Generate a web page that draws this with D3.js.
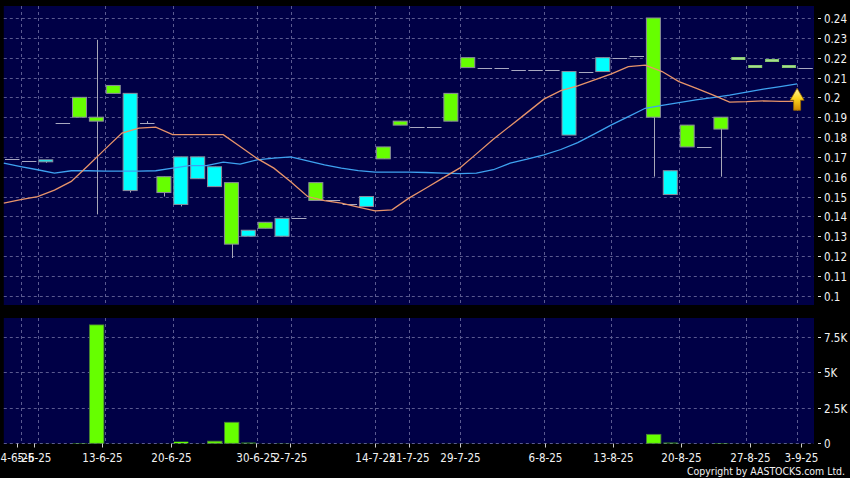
<!DOCTYPE html>
<html><head><meta charset="utf-8">
<script src="https://cdn.jsdelivr.net/npm/d3@7"></script>
<style>
html,body{margin:0;padding:0;background:#000;}
svg{display:block;}
text{font-family:"DejaVu Sans Condensed","DejaVu Sans",sans-serif;font-stretch:condensed;fill:#f2f2f2;font-size:11.5px;}
</style></head><body>
<svg id="c" width="850" height="478"></svg>
<script>
// ---- DATA (one entry per trading slot) ----
const opens  = [0.169,0.168,0.168,0.187,0.190,0.188,0.202,0.202,0.187,0.152,0.170,0.170,0.165,0.126,0.133,0.134,0.139,0.139,0.148,0.148,0.146,0.150,0.169,0.186,0.185,0.185,0.188,0.215,0.215,0.215,0.214,0.214,0.214,0.213,0.213,0.220,0.220,0.221,0.190,0.163,0.175,0.175,0.184,0.220,0.216,0.219,0.216,0.215];
const highs  = [0.169,0.168,0.168,0.187,0.200,0.229,0.206,0.202,0.188,0.160,0.170,0.170,0.165,0.157,0.133,0.137,0.139,0.139,0.157,0.148,0.146,0.150,0.175,0.188,0.185,0.185,0.202,0.220,0.215,0.215,0.214,0.214,0.214,0.213,0.213,0.220,0.220,0.221,0.240,0.163,0.186,0.175,0.190,0.220,0.216,0.219,0.216,0.215];
const lows   = [0.169,0.168,0.167,0.187,0.190,0.141,0.202,0.152,0.187,0.150,0.145,0.159,0.155,0.119,0.130,0.134,0.130,0.139,0.148,0.148,0.146,0.145,0.169,0.186,0.185,0.185,0.188,0.215,0.215,0.215,0.214,0.214,0.214,0.181,0.213,0.213,0.220,0.221,0.160,0.151,0.175,0.175,0.160,0.220,0.216,0.219,0.216,0.215];
const closes = [0.169,0.168,0.167,0.187,0.200,0.190,0.206,0.153,0.187,0.160,0.146,0.159,0.155,0.157,0.130,0.137,0.130,0.139,0.157,0.148,0.146,0.145,0.175,0.188,0.185,0.185,0.202,0.220,0.215,0.215,0.214,0.214,0.214,0.181,0.213,0.213,0.220,0.221,0.240,0.151,0.186,0.175,0.190,0.220,0.216,0.219,0.216,0.215];
const volumes= [0,0,3,0,20,8330,3,3,0,3,110,3,150,1480,40,3,10,0,3,0,0,3,3,3,0,0,3,3,0,0,0,0,0,3,0,3,0,0,630,40,3,0,20,3,3,3,3,0];
const maShort = [0.1467,0.1484,0.150,0.1532,0.1576,0.1656,0.1739,0.182,0.1845,0.185,0.1812,0.1812,0.1812,0.1812,0.1752,0.1692,0.1643,0.1574,0.150,0.1479,0.1467,0.1447,0.1428,0.1433,0.1492,0.1542,0.1593,0.1643,0.1715,0.1789,0.1856,0.1923,0.1991,0.2034,0.2058,0.2088,0.2118,0.2155,0.2162,0.213,0.2079,0.2046,0.2012,0.1976,0.1978,0.1982,0.198,0.198];
const maLong  = [0.1668,0.1651,0.1635,0.1618,0.163,0.163,0.1628,0.1628,0.1628,0.163,0.1643,0.1656,0.1656,0.1673,0.1663,0.1685,0.1694,0.170,0.168,0.166,0.1643,0.1631,0.1623,0.1623,0.1623,0.1621,0.1618,0.1615,0.1618,0.1635,0.1668,0.1688,0.171,0.1737,0.1772,0.1816,0.1861,0.1903,0.1945,0.196,0.1973,0.1987,0.1999,0.2011,0.2026,0.2041,0.2054,0.2068];
const dateTickSlots  = [1,2,6,10,15,17,22,24,27,32,36,40,44,47];
const dateTickLabels = ["4-6-25","5-6-25","13-6-25","20-6-25","30-6-25","2-7-25","14-7-25","21-7-25","29-7-25","6-8-25","13-8-25","20-8-25","27-8-25","3-9-25"];
const priceTicks = [0.24,0.23,0.22,0.21,0.20,0.19,0.18,0.17,0.16,0.15,0.14,0.13,0.12,0.11,0.10];
const volTicks = [0,2500,5000,7500];
const volTickLabels = ["0","2.5K","5K","7.5K"];

// ---- LAYOUT ----
const N = closes.length;
const plotL = 3.8, plotR = 814;
const pTop = 6, pBot = 305, vTop = 318, vBot = 443.5;
const colUp = "#66ff00", colDn = "#00ffff", bg = "#000046", gridCol = "#5a5a90";

const svg = d3.select("#c");
svg.append("rect").attr("width",850).attr("height",478).attr("fill","#000");

const x = d3.scaleBand().domain(d3.range(N)).range([plotL, plotR]).padding(0);
const bw = x.bandwidth();
const xTick = d3.scaleLinear().domain([1,47]).range([17.3,800.7]);
const yP = d3.scaleLinear().domain([0.10,0.24]).range([295.7,18]);
const yV = d3.scaleLinear().domain([0,7500]).range([443.3,336.7]);

const defs = svg.append("defs");
const g1 = defs.append("linearGradient").attr("id","gold").attr("x1",0).attr("y1",0).attr("x2",0).attr("y2",1);
g1.append("stop").attr("offset","0%").attr("stop-color","#fff7a8");
g1.append("stop").attr("offset","45%").attr("stop-color","#ffd820");
g1.append("stop").attr("offset","100%").attr("stop-color","#d08800");

// panels
svg.append("rect").attr("x",plotL).attr("y",pTop).attr("width",plotR-plotL).attr("height",pBot-pTop).attr("fill",bg);
svg.append("rect").attr("x",plotL).attr("y",vTop).attr("width",plotR-plotL).attr("height",vBot-vTop).attr("fill",bg);

const grid = svg.append("g").attr("stroke",gridCol).attr("stroke-width",1).attr("stroke-dasharray","3,3").attr("fill","none");
priceTicks.forEach(v=>{
  const yy = Math.round(yP(v))+0.5;
  grid.append("line").attr("x1",plotL).attr("x2",plotR).attr("y1",yy).attr("y2",yy);
});
volTicks.forEach(v=>{
  const yy = Math.round(yV(v))+0.5;
  grid.append("line").attr("x1",plotL).attr("x2",plotR).attr("y1",yy).attr("y2",yy);
});
dateTickSlots.forEach(k=>{
  const xx = Math.round(x(k))+0.5;
  grid.append("line").attr("x1",xx).attr("x2",xx).attr("y1",pTop).attr("y2",pBot);
  grid.append("line").attr("x1",xx).attr("x2",xx).attr("y1",vTop).attr("y2",vBot);
});

// candles
const cg = svg.append("g");
d3.range(N).forEach(k=>{
  const o=opens[k], h=highs[k], l=lows[k], c=closes[k], v=volumes[k];
  const x0 = x(k)+1.2, cx = Math.round(x(k)+bw/2)+0.5;
  if (h>l) cg.append("line").attr("x1",cx).attr("x2",cx).attr("y1",yP(h)).attr("y2",yP(l)).attr("stroke","#a8a8b8").attr("stroke-width",1);
  if (v===0 && o===c) {
    const yy = Math.round(yP(c))+0.5;
    cg.append("line").attr("x1",x0).attr("x2",x0+14.5).attr("y1",yy).attr("y2",yy).attr("stroke","#a8a8c0").attr("stroke-width",1);
  } else if (o===c) {
    const yy = Math.round(yP(c));
    cg.append("rect").attr("x",x0+0.5).attr("y",yy-1).attr("width",14).attr("height",3)
      .attr("fill","#88c870").attr("stroke","none");
    cg.append("rect").attr("x",x0+1.5).attr("y",yy).attr("width",12).attr("height",1)
      .attr("fill","#a8e090");
  } else {
    const top = yP(Math.max(o,c)), bot = yP(Math.min(o,c));
    let hgt = bot-top, ty = top;
    if (hgt < 2) { ty = top - 1; hgt = 2; }
    cg.append("rect").attr("x",x0).attr("y",ty).attr("width",14).attr("height",hgt)
      .attr("fill", c>=o ? colUp : colDn).attr("stroke","#8c8c9c").attr("stroke-width",1);
  }
});

// moving averages
const line = d3.line().x((d,i)=>x(i)).y(d=>yP(d));
svg.append("path").datum(maLong).attr("d",line).attr("fill","none").attr("stroke","#3ea2f0").attr("stroke-width",1.3);
svg.append("path").datum(maShort).attr("d",line).attr("fill","none").attr("stroke","#e8946a").attr("stroke-width",1.3);

// arrow at last MA point
const tx = x(N-1), ty = yP(maLong[N-1])+4.4;
svg.append("path").attr("d",`M${tx},${ty} L${tx+7},${ty+12} L${tx+3.5},${ty+12} L${tx+3.5},${ty+22} L${tx-3.5},${ty+22} L${tx-3.5},${ty+12} L${tx-7},${ty+12} Z`)
  .attr("fill","url(#gold)").attr("stroke","#9a6a00").attr("stroke-width",0.8);

// volume bars (true height, tiny volumes barely visible as in the original)
const vg = svg.append("g");
d3.range(N).forEach(k=>{
  const v = volumes[k];
  if (v<=0) return;
  const hgt = yV(0)-yV(v);
  vg.append("rect").attr("x",x(k)+1.2).attr("y",yV(0)-hgt).attr("width",14.5).attr("height",hgt)
    .attr("fill",colUp).attr("stroke", hgt>2 ? "#4a7a3a" : "none").attr("stroke-width",0.8);
});

// right axes
const ax = svg.append("g");
priceTicks.forEach(v=>{
  const yy = Math.round(yP(v))+0.5;
  ax.append("line").attr("x1",818).attr("x2",821).attr("y1",yy).attr("y2",yy).attr("stroke","#ddd");
  ax.append("text").attr("x",824).attr("y",yy).attr("dy","0.36em").text((+v.toFixed(2)).toString());
});
volTicks.forEach((v,i)=>{
  const yy = Math.round(yV(v))+0.5;
  ax.append("line").attr("x1",818).attr("x2",821).attr("y1",yy).attr("y2",yy).attr("stroke","#ddd");
  ax.append("text").attr("x",824).attr("y",yy).attr("dy","0.36em").text(volTickLabels[i]);
});

// bottom date axis
dateTickSlots.forEach((k,i)=>{
  const xx = Math.round(xTick(k))+0.5;
  ax.append("line").attr("x1",xx).attr("x2",xx).attr("y1",vBot).attr("y2",vBot+4).attr("stroke","#ccc");
  ax.append("text").attr("x",xx).attr("y",461.5).attr("text-anchor","middle").text(dateTickLabels[i]);
});

svg.append("text").attr("x",845).attr("y",474.5).attr("text-anchor","end").style("font-size","10px")
  .attr("textLength",158).attr("lengthAdjust","spacingAndGlyphs").text("Copyright by AASTOCKS.com Ltd.");
</script>
</body></html>
